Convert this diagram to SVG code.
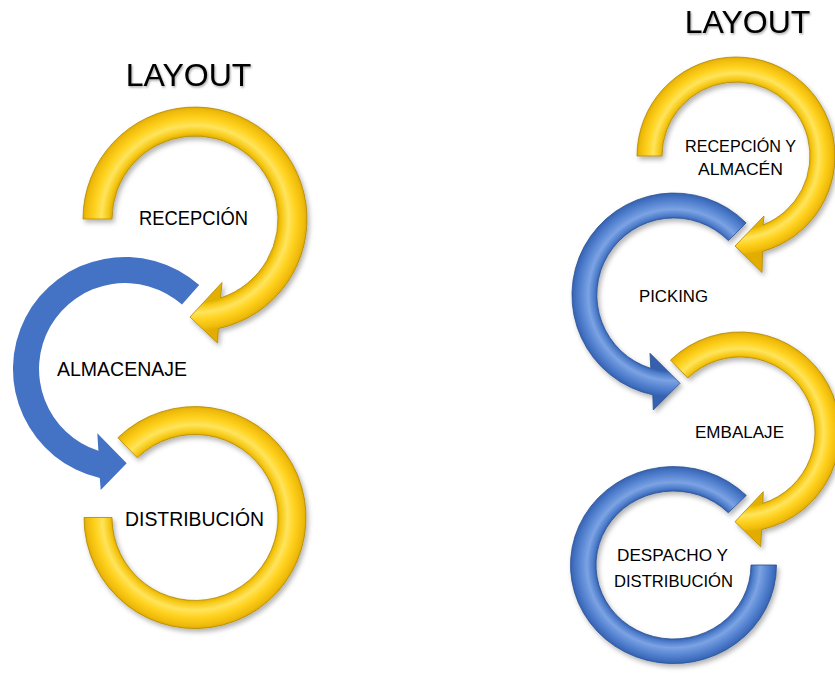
<svg xmlns="http://www.w3.org/2000/svg" xmlns:xlink="http://www.w3.org/1999/xlink" width="835" height="673" viewBox="0 0 835 673">
<style>
.lbl{font-family:"Liberation Sans",Arial,sans-serif;fill:#000;text-anchor:middle}
.big{font-size:19.5px}
.sm{font-size:17px}
.title{font-family:"Liberation Sans",Arial,sans-serif;font-size:32px;fill:#000;text-anchor:middle;filter:url(#tshadow)}
.yel{stroke:#B08600;stroke-width:0.8;filter:url(#shadow)}
.blu3d{stroke:#2A4F90;stroke-width:0.8;filter:url(#shadow)}
.bluflat{fill:#4472C4}
</style>
<defs>
<filter id="shadow" x="-20%" y="-20%" width="140%" height="140%">
<feDropShadow dx="2" dy="3" stdDeviation="2.5" flood-color="#000" flood-opacity="0.3"/>
</filter>
<filter id="tshadow" x="-10%" y="-20%" width="120%" height="150%">
<feDropShadow dx="1" dy="1.5" stdDeviation="1" flood-color="#000" flood-opacity="0.35"/>
</filter>
<radialGradient id="gy" gradientUnits="userSpaceOnUse">
<stop offset="0.745" stop-color="#E2B000"/>
<stop offset="0.775" stop-color="#F6C814"/>
<stop offset="0.835" stop-color="#FFE45C"/>
<stop offset="0.9" stop-color="#FFD21F"/>
<stop offset="0.97" stop-color="#F0BC0C"/>
<stop offset="1" stop-color="#E2AD00"/>
</radialGradient>
<radialGradient id="gb" gradientUnits="userSpaceOnUse">
<stop offset="0.75" stop-color="#3560AE"/>
<stop offset="0.78" stop-color="#4C7CCB"/>
<stop offset="0.84" stop-color="#7CA3E3"/>
<stop offset="0.9" stop-color="#5E8BD6"/>
<stop offset="0.97" stop-color="#416FC0"/>
<stop offset="1" stop-color="#3462B0"/>
</radialGradient>
<radialGradient id="gyL1" href="#gy" xlink:href="#gy" cx="195" cy="219" r="112"/>
<radialGradient id="gyL3" href="#gy" xlink:href="#gy" cx="195" cy="517.5" r="111"/>
<radialGradient id="gyR1" href="#gy" xlink:href="#gy" cx="736" cy="156" r="99"/>
<radialGradient id="gyR3" href="#gy" xlink:href="#gy" cx="740" cy="432" r="100"/>
<radialGradient id="gbR2" href="#gb" xlink:href="#gb" cx="674" cy="295" r="102"/>
<radialGradient id="gbR4" href="#gb" xlink:href="#gb" cx="673.5" cy="565" r="103" gradientTransform="translate(673.5 565) scale(1 0.956) translate(-673.5 -565)"/>
</defs>

<rect width="835" height="673" fill="#fff"/>

<!-- Left diagram -->
<text class="title" x="188.5" y="86">LAYOUT</text>

<g id="l-recepcion">
<path class="yel" fill="url(#gyL1)" d="M83,219 A112,112 0 1 1 218.3,328.6 L217.5,343 L190,317 L222,282.5 L220.6,297.9 A83,83 0 1 0 112,219 Z"/>
<text class="lbl big" x="193.5" y="225" textLength="109" lengthAdjust="spacingAndGlyphs">RECEPCIÓN</text>
</g>

<g id="l-almacenaje">
<path class="bluflat" d="M199.2,285.1 A112,112 0 1 0 99.8,478.1 L100.7,490 L126.7,463.3 L97.3,433.3 L98.4,450.8 A86,86 0 1 1 182,304.6 Z"/>
<text class="lbl big" x="122" y="376" textLength="130" lengthAdjust="spacingAndGlyphs">ALMACENAJE</text>
</g>

<g id="l-distribucion">
<path class="yel" fill="url(#gyL3)" d="M117.9,437.7 A111,111 0 1 1 84,517.5 L112,517.5 A83,83 0 1 0 137.3,457.8 Z"/>
<text class="lbl big" x="194.5" y="526" textLength="139" lengthAdjust="spacingAndGlyphs">DISTRIBUCIÓN</text>
</g>

<!-- Right diagram -->
<text class="title" x="747.5" y="33">LAYOUT</text>

<g id="r-recepcion-almacen">
<path class="yel" fill="url(#gyR1)" d="M637,156 A99,99 0 1 1 762.5,251.4 L762,272.5 L735,246 L764,216 L763.1,224.9 A74,74 0 1 0 662,156 Z"/>
<text class="lbl sm" x="740.5" y="152" textLength="111" lengthAdjust="spacingAndGlyphs">RECEPCIÓN Y</text>
<text class="lbl sm" x="740.5" y="175" textLength="85" lengthAdjust="spacingAndGlyphs">ALMACÉN</text>
</g>

<g id="r-picking">
<path class="blu3d" fill="url(#gbR2)" d="M746.1,222.9 A102,102 0 1 0 652.8,394.8 L653.3,410 L680,383.3 L650,353.3 L650.8,368.4 A77,77 0 1 1 728.4,240.6 Z"/>
<text class="lbl sm" x="673.5" y="302" textLength="69" lengthAdjust="spacingAndGlyphs">PICKING</text>
</g>

<g id="r-embalaje">
<path class="yel" fill="url(#gyR3)" d="M670.5,360.1 A100,100 0 1 1 761.6,529.6 L760.7,546.7 L735,521.7 L763.3,491.7 L762.8,503.4 A75,75 0 1 0 687.9,378 Z"/>
<text class="lbl sm" x="739.5" y="438" textLength="89" lengthAdjust="spacingAndGlyphs">EMBALAJE</text>
</g>

<g id="r-despacho">
<path class="blu3d" fill="url(#gbR4)" d="M746.3,495.4 A103,98.5 0 1 0 776.5,565 L751,565 A77.5,74 0 1 1 728.3,512.7 Z"/>
<text class="lbl sm" x="672.5" y="561" textLength="111" lengthAdjust="spacingAndGlyphs">DESPACHO Y</text>
<text class="lbl sm" x="673.5" y="587" textLength="119" lengthAdjust="spacingAndGlyphs">DISTRIBUCIÓN</text>
</g>

<g id="connectors"></g>
</svg>
